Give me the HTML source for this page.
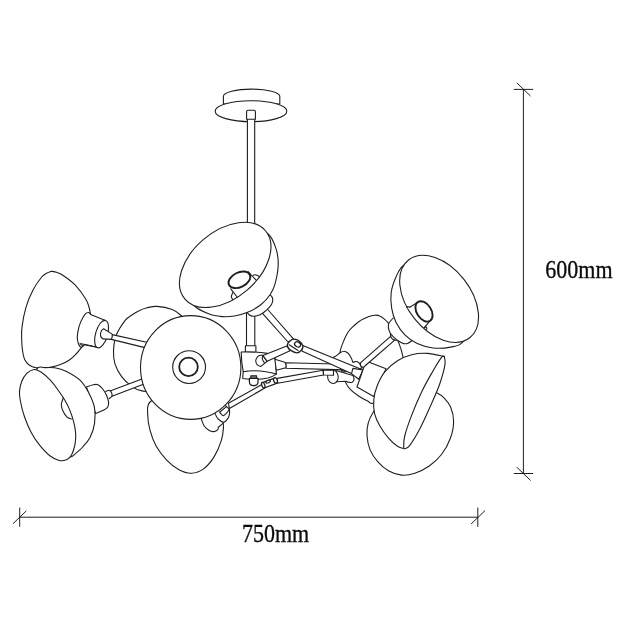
<!DOCTYPE html>
<html><head><meta charset="utf-8"><title>Chandelier dimensions</title>
<style>
html,body{margin:0;padding:0;background:#fff}
body{width:625px;height:625px;overflow:hidden}
svg{display:block}
text{font-family:"Liberation Serif",serif;font-size:22px;fill:#0a0a0a;stroke:#0a0a0a;stroke-width:.3px}
</style></head><body>
<svg width="625" height="625" viewBox="0 0 625 625">
<rect width="625" height="625" fill="#fff"/>
<g fill="#fff" stroke="#1e1e1e" stroke-width="1.1" stroke-linejoin="round" stroke-linecap="round">
<!-- ceiling mount -->
<path d="M223.4,96.3 A28.2,7.2 0 0 1 279.8,96.3 L279.8,104 L223.4,104 Z"/>
<ellipse cx="251" cy="111.2" rx="35.8" ry="10.5"/>
<path d="M247.4,119.2L247.4,240L254.7,240L254.7,119.2"/>
<path d="M246.5,300L246.5,352L254.8,352L254.8,300"/>
<path d="M246.6,119.3 L246.6,111.8 Q246.6,110.3 248.1,110.3 L253.9,110.3 Q255.4,110.3 255.4,111.8 L255.4,119.3 Z"/>
<!-- shade 6 -->
<path d="M113.5,351C113.7,346.1 114.2,340.4 116.2,335.3C118.2,330.2 122.7,323.7 125.2,320.4C127.8,317.1 129.3,316.9 131.5,315.3C133.7,313.7 136,312.1 138.6,310.9C141.2,309.6 143.9,308.6 147,307.8C150.1,307.1 152.8,306.1 157,306.4C161.2,306.7 168.2,308.1 172.2,309.6C176.2,311.1 177.4,312.2 181.2,315.6C185,319 191.9,324.3 195,330C198.1,335.7 200.8,342.5 200,350C199.2,357.5 195.8,368 190,375C184.2,382 173,389.4 165,392C157,394.6 147.5,391.8 142,390.9C136.5,390 135.3,388.8 131.9,386.4C128.5,384 124.6,380.5 121.8,376.8C119,373.1 116.5,368.7 115.1,364.4C113.7,360.1 113.3,355.9 113.5,351Z"/>
<!-- shade 8 -->
<path d="M340.1,352.4C340.4,348.3 341.4,346.7 342.7,343.4C344,340.1 345.9,335.5 347.8,332.5C349.7,329.5 352.1,327.5 354.2,325.5C356.3,323.5 358.2,321.8 360.6,320.4C363,318.9 366,317.7 368.3,316.8C370.6,315.9 372.8,315.4 374.7,315.2C376.6,315 378.2,315.2 379.8,315.9C381.4,316.5 382.9,317.9 384.3,319.1C385.7,320.3 386.5,320.6 388.1,322.9C389.7,325.2 392.2,329.6 394,333C395.8,336.4 397.5,339.5 399,343.4C400.5,347.3 402.1,352.6 402.8,356.2C403.5,359.8 403.5,361 403,365C402.5,369 402.2,374.5 400,380C397.8,385.5 394.5,394.1 390,398C385.5,401.9 376.9,402.8 373.2,403.3C369.5,403.8 370,402.3 367.6,401.1C365.2,399.9 361.4,397.9 358.6,396C355.8,394.1 353,392.1 350.8,389.9C348.6,387.7 347.3,386.2 345.7,382.6C344.1,379 341.9,373 341,368C340.1,363 339.8,356.5 340.1,352.4Z"/>
<!-- shade 10 -->
<path d="M436.2,392.5C439.4,394.1 441.6,395.4 444,397.8C446.4,400.2 449,403.1 450.6,407C452.2,410.9 453.7,416.1 453.6,421.4C453.6,426.6 452.3,433 450.3,438.5C448.3,444 445.1,449.9 441.5,454.5C437.9,459.1 433.3,463.2 428.9,466.3C424.4,469.4 419.4,471.8 414.8,473.3C410.2,474.8 406,475.5 401.6,475.1C397.2,474.7 392.3,472.9 388.4,470.7C384.4,468.5 381,465.4 377.9,461.9C374.8,458.4 371.8,454 370,449.6C368.2,445.2 367.3,439.9 367,435.5C366.7,431.1 367.1,427.2 368.2,423.2C369.3,419.2 370.7,415.9 373.5,411.7C376.3,407.5 379.8,401.9 385,398C390.2,394.1 398.3,389.7 405,388C411.7,386.3 419.8,387.2 425,388C430.2,388.8 433,390.9 436.2,392.5Z"/>
<!-- shade 7 -->
<path d="M150,402C146.3,405.7 147.7,409.7 147.7,414.4C147.7,419.1 148.6,424.9 150,430.2C151.4,435.5 153.3,441 156.1,446C158.9,451 162.9,456.1 166.7,460.1C170.5,464.1 174.9,467.6 179,469.8C183.1,472 187.2,473.5 191.3,473.3C195.4,473.1 199.8,471.7 203.6,468.9C207.4,466.1 211.3,461.3 214.2,456.6C217.1,451.9 219.7,445.5 221.2,440.8C222.7,436.1 223.2,431.9 223.4,428.4C223.6,424.9 223.9,423.9 222.5,420C221.1,416.1 218.8,409.2 215,405C211.2,400.8 207.5,397.2 200,395C192.5,392.8 178.3,390.8 170,392C161.7,393.2 153.7,398.3 150,402Z"/>
<!-- left rods -->
<path d="M112.2,334.6L150,343L150,348.9L111.3,339.4Z"/>
<path d="M110,390.9L150,376L150,381.8L112,396.2Z"/>
<!-- right knuckles (behind long arm) -->
<path d="M330.8,358.3C331.5,358 333.4,357.5 335,356.6C336.6,355.7 338.6,353.7 340.1,352.8C341.6,351.9 342.7,351.3 344,351.3C345.3,351.3 346.6,352 347.8,353C349,354 350.1,355.9 351,357.5C351.9,359.1 352.6,361.6 352.9,362.4L352.9,362.4C353.2,362.3 354.2,361.7 355,361.6C355.8,361.5 356.6,361.4 357.4,361.8C358.2,362.2 359.6,363.5 360,363.9L362,368 L345,372 L331,364 Z"/>
<path d="M285.9,362.7L345,364.2L346,369.9L285.9,368.2Z"/>
<path d="M336,370.5 L352.9,375.5 Q355.5,379.5 352.4,382.2 Q349,383 345.7,381.3 L336.6,381.8 Z"/>
<ellipse cx="332.9" cy="376.7" rx="5.3" ry="6.8" transform="rotate(-6 332.9 376.7)"/>
<path d="M323.2,370.2L333.5,370.2L333.5,375.2L323.6,375Z"/>
<path d="M277.2,378.4L323,370.2L323.4,375L277.7,383.2Z"/>
<!-- long arm -->
<path d="M302.8,345.5L363,370L351.5,373.6L301.8,351Z"/>
<path d="M352.9,368.4L363,370L358.7,379.2L351.5,373.6Z"/>
<!-- hub -->
<path d="M245.4,345.8L245.4,352.6L255.9,352.6L255.9,345.8Z"/>
<path d="M262.4,384.2L228.4,403.2L229.4,408.5L264.8,388Z"/>
<path d="M243.2,371.7 L242.7,378.5 Q258,380.5 268,378 Q273,376.5 276.3,374.1 L274.8,365 Z"/>
<path d="M241.2,352 Q256,351.5 267.6,353.4 Q272,355 275.3,358.7 L276.3,374.1 Q266.7,371 254.2,370.7 Q248,370.8 243.2,371.7 Q241.3,362 241.2,352 Z"/>
<path d="M274.8,359.2 L284.9,362.3 Q286.6,365 285.9,367.8 L276.3,370.2 Z"/>
<path d="M262.8,355.4 Q257,354.5 255.7,360.5 Q256,366 260.9,366.4 L267.2,361.3 Z"/>
<path d="M262.8,355.6C262.7,356.2 262.1,357.9 262.3,359C262.5,360.1 263.9,361.8 264.2,362.4" fill="none"/>
<!-- arms at joint -->
<path d="M267.3,309L293.6,339.2L288,342L262.5,313.3Z"/>
<path d="M262.8,355.4L286.8,346L290,350.8L267.2,361.3Z"/>
<path d="M288,343.2C288.6,342.1 290,341 291,340.3C292,339.6 292.7,339.1 294,339.2C295.3,339.3 297.3,339.7 298.8,340.8C300.3,341.9 302.3,344.1 302.8,345.6C303.3,347.1 302.7,348.4 301.8,349.6C300.9,350.8 299,352.7 297.2,352.8C295.4,352.9 292.4,351.4 290.8,350.4C289.2,349.4 288.1,347.8 287.6,346.6C287.1,345.4 287.4,344.2 288,343.2Z" stroke-width="1.3"/>
<ellipse cx="297.6" cy="344.4" rx="3.2" ry="2.4" transform="rotate(30 297.6 344.4)" stroke-width="1.3"/>
<path d="M289.2,344.8L298,350.4" fill="none" stroke-width="1.2"/>
<path d="M249.4,378.4 L258,378.4 L258,382 Q258,385.6 253.7,385.6 Q249.4,385.6 249.4,382 Z" stroke-width="1.25"/>
<path d="M250.8,375.7L256.6,375.7L256.6,378.4L250.8,378.4Z" fill="#777"/>
<path d="M262.4,382.7L275.3,377.9L277.2,383.2L264.3,388Z" stroke-width="1.3"/>
<ellipse cx="263.3" cy="385.2" rx="1.5" ry="2.9" transform="rotate(-20 263.3 385.2)" stroke-width="1.3"/>
<ellipse cx="275.5" cy="380.4" rx="1.8" ry="2.8" transform="rotate(-20 275.5 380.4)" stroke-width="1.3"/>
<ellipse cx="268.1" cy="381.6" rx="2.4" ry="1.2" transform="rotate(-20 268.1 381.6)" stroke-width="1.2"/>
<!-- shade7 socket -->
<path d="M201.5,419.6C202,420.7 203.1,424.5 204.4,426.3C205.7,428.1 207.6,429.7 209.2,430.6C210.8,431.5 212.6,431.8 214,431.6C215.4,431.4 217.1,430.3 217.8,429.6C218.5,428.9 218.2,427.6 218.3,427.2L223.6,422.9 L214,408 L200,414 Z"/>
<path d="M215.4,414.3C215.8,415 216.4,417.3 217.8,418.6C219.2,419.9 221.8,422.4 223.6,422.2C225.4,422 227.4,419.2 228.4,417.6C229.4,416 229.4,414.2 229.6,412.8C229.8,411.4 229.4,409.6 229.4,409L226.5,406.6 L222,402 L212,408 Z"/>
<path d="M219.6,412.2L226.5,406.6" fill="none"/>
<path d="M219.8,412.4C220.1,412.7 222.3,415.7 223.1,415.7C223.9,415.7 226.8,412.9 227.4,412.2C228,411.5 229.2,409.3 229.4,409" fill="none"/>
<!-- shade 5 -->
<ellipse cx="190.7" cy="367.5" rx="50.2" ry="51.9"/>
<ellipse cx="189.1" cy="367.1" rx="16.4" ry="16.4"/>
<ellipse cx="188.5" cy="366.9" rx="9.3" ry="9.3" stroke-width="1.8"/>
<!-- shade 1 -->
<path d="M266,291C266.6,291.5 268.6,292.9 269.7,294.1C270.8,295.3 272.3,296.7 272.6,298.4C272.9,300.1 272.6,302.3 271.6,304.2C270.6,306.1 268.7,308.1 266.8,309.9C264.9,311.6 262.3,313.6 260.1,314.7C257.9,315.8 255.2,316.2 253.4,316.2C251.6,316.2 250.3,315.6 249.1,314.7C247.9,313.8 246.5,311.6 246,311"/>
<path d="M250,226C252.2,224.2 263.9,230.2 268.2,234C272.5,237.8 274.3,243.4 276,248.6C277.7,253.8 278.4,259.4 278.2,265.4C278,271.4 276.2,279.5 274.9,284.4C273.6,289.2 272.5,291.1 270.2,294.5C267.9,297.9 264.9,301.5 261.1,304.5C257.3,307.5 252.1,310.4 247.6,312.3C243.1,314.2 238.7,315.3 234.4,316C230.1,316.7 226.3,317 222,316.6C217.7,316.2 213.3,315.7 208.6,313.8C203.9,311.9 195.4,307.7 194,305.4C192.6,303.1 196.5,302.6 200,300C203.5,297.4 208.3,295 215,290C221.7,285 233.3,277.5 240,270C246.7,262.5 253.3,252.3 255,245C256.7,237.7 247.8,227.8 250,226Z"/>
<ellipse cx="225.2" cy="264.9" rx="52.8" ry="33.4" transform="rotate(-40.3 225.2 264.9)"/>
<path d="M248.1,271.5L256.3,280.4" fill="none"/>
<path d="M230.8,288.8L237.1,297" fill="none"/>
<path d="M252.9,275.4C253.2,275.3 254.3,274.8 255,274.8C255.7,274.8 256.4,274.9 257.2,275.2C258,275.5 259.2,276.5 259.6,276.8" fill="none"/>
<path d="M232.8,292.6C232.6,293.2 231.3,295.3 231.3,296.5C231.3,297.7 232.6,299.2 232.8,299.8" fill="none"/>
<ellipse cx="239.4" cy="279.8" rx="11.6" ry="7.3" transform="rotate(-26 239.4 279.8)" stroke-width="1.9"/>
<!-- shade 3 -->
<path d="M51.4,271.2C50.6,271.6 48.1,272.3 46.5,273.3C44.9,274.3 44,274.2 41.7,277C39.4,279.8 35.5,285.1 32.9,290.2C30.2,295.3 27.6,301.6 25.8,307.8C24,314 22.7,321.7 22,327.1C21.3,332.5 21.6,336 21.7,340C21.8,344 22.1,347.8 22.6,351C23.1,354.2 23.6,357.2 24.7,359.5C25.8,361.8 27.1,363.6 29.1,365C31.1,366.4 34,367.4 36.5,367.9C39,368.4 41.8,368.2 44,368.1C46.2,368 47.3,368 50,367.4C52.7,366.8 57.2,365.7 60.4,364.5C63.6,363.3 66.7,361.8 69.4,360C72.1,358.2 74.3,355.8 76.5,353.5C78.7,351.2 81.5,347.3 82.5,346.1 L90.6,314.4 L90.6,314.4C90.3,313.2 89.8,309.6 89,307C88.2,304.4 88,302.7 85.7,299C83.4,295.3 78.9,288.9 75.1,284.9C71.3,280.9 65.9,277.3 62.8,275.2C59.7,273.1 58.4,273 56.5,272.3C54.6,271.6 52.2,271.4 51.4,271.2Z"/>
<path d="M90.6,314.6C90.3,314.2 89.6,312.6 88.7,312.5C87.8,312.4 86.8,312.3 85.4,313.9C84.1,315.5 81.9,319 80.6,322.1C79.3,325.2 78.2,329.6 77.7,332.6C77.2,335.6 77.2,338.1 77.5,340.3C77.8,342.6 78.8,345 79.6,346.1C80.3,347.2 81.2,347.2 82,347C82.8,346.8 84,345 84.4,344.6 L98.3,347.5 L105.5,320.6 Z"/>
<path d="M80.1,343.2C80.2,343.4 80.6,344.2 81,344.6C81.4,345 82.3,345.3 82.6,345.4" fill="none"/>
<path d="M81.5,343.8L98.3,347.5" fill="none"/>
<ellipse cx="101.6" cy="334.1" rx="6" ry="14.2" transform="rotate(16 101.6 334.1)"/>
<path d="M103.6,328.8 L112.2,334.1 Q112.6,337 111.3,339.4 L103.1,338.9 Q100.2,337.5 100.5,333.5 Q101,330 103.6,328.8 Z"/>
<!-- shade 4 -->
<path d="M105.7,391.4C106.3,391.2 108.5,390 109.6,390.4C110.6,390.8 111.7,392.8 112,393.8C112.3,394.9 112,395.9 111.5,396.7C111,397.5 109.5,398.3 109.1,398.6"/>
<path d="M86.5,387.1C87.6,386.7 91.3,385.1 93.2,384.7C95.1,384.3 96.4,384 98,384.7C99.6,385.4 101.3,387.2 102.8,389C104.2,390.8 105.7,393.5 106.7,395.7C107.7,397.9 108.4,400.5 108.6,402.4C108.8,404.3 108.4,405.9 107.6,407.2C106.8,408.5 105.8,409.1 103.8,410.1C101.8,411.2 97,412.9 95.6,413.5Z"/>
<path d="M36.9,369C38.6,365.3 42,367.8 45,367.6C48,367.4 51.3,367.2 54.8,367.8C58.3,368.4 61.8,369.1 66,371.2C70.2,373.3 76.1,376.4 80,380.2C83.9,383.9 86.8,389.1 89.2,393.7C91.6,398.3 93.6,402.8 94.5,407.8C95.4,412.8 95.2,418.7 94.5,423.6C93.8,428.6 92,433.6 90,437.5C88,441.4 85,444.4 82.7,447C80.4,449.6 78,451.5 76,453.2C74,454.9 72.8,457.2 70.5,457C68.2,456.8 65.4,456.5 62,452C58.6,447.5 54.5,440.3 50,430C45.5,419.7 37.2,400.2 35,390C32.8,379.8 35.2,372.7 36.9,369Z"/>
<path d="M34.1,369.5C36.5,369.3 38.7,370.5 41.4,372.3C44.1,374.1 47.5,377.2 50.3,380.2C53.1,383.2 55.8,386.8 58.2,390.2C60.6,393.6 63,397 64.9,400.3C66.8,403.6 68.3,406.4 69.8,410.1C71.3,413.8 72.8,418.5 73.8,422.4C74.8,426.3 75.5,429.9 75.7,433.6C75.9,437.3 75.6,441.2 74.9,444.8C74.2,448.4 72.8,452.5 71.5,454.9C70.2,457.3 69,458.5 67,459.4C65,460.3 62,461.1 59.2,460.5C56.4,459.9 53.4,458.4 50.2,456C47,453.6 43.4,449.8 40.2,445.9C37,442 33.8,437.4 31.2,432.5C28.6,427.6 26.3,421.9 24.5,416.8C22.7,411.7 21.4,406.2 20.6,402C19.8,397.8 19.3,394.8 19.5,391.4C19.7,387.9 20.6,384.3 21.8,381.3C23,378.3 24.8,375.4 26.8,373.4C28.9,371.4 31.7,369.7 34.1,369.5Z"/>
<path d="M63.4,397.6C63,398.8 61.3,402.5 61.3,404.8C61.3,407.1 62.2,409.4 63.2,411.5C64.2,413.6 65.7,415.9 67.1,417.1C68.5,418.4 70.7,418.7 71.4,419" fill="none"/>
<!-- shade 9 cup -->
<path d="M366,361L386,368.8L373.7,396.4L357,387Z"/>
<!-- shade 2 -->
<path d="M390.6,336.3 L361,362.4 Q359.3,364.8 361.3,366.6 Q363.3,367.8 364.9,366 L394.4,340.3 Z"/>
<path d="M390.4,333.8C390.5,334.4 390.6,336.3 391.1,337.2C391.6,338.1 392.3,338.9 393.2,339.4C394.1,339.9 395.9,340.1 396.5,340.3"/>
<path d="M393.2,318C392.5,318.9 389.7,321.6 388.9,323.2C388.1,324.8 388.2,326.1 388.4,327.6C388.6,329.1 389.1,330.9 389.9,332.4C390.7,333.9 391.8,335.3 393.2,336.7C394.6,338.1 396.7,339.9 398.5,341C400.3,342.1 402.3,343.2 403.8,343.6C405.3,344 406.2,343.9 407.6,343.4C409,342.9 411.3,341 412,340.5"/>
<path d="M404,265C400,267.4 398.2,272.1 396.1,276.7C394,281.3 391.9,287.2 391.2,292.5C390.5,297.8 390.9,303.4 391.7,308.4C392.5,313.4 393.9,318 396.1,322.4C398.3,326.8 401.4,331.3 404.9,334.8C408.4,338.3 412.5,341.4 417.2,343.6C421.9,345.8 427.5,347.4 433.1,348C438.7,348.6 445.7,348.1 450.7,347.1C455.7,346.1 459.8,346.3 463,341.8C466.2,337.3 472.2,330.3 470,320C467.8,309.7 458.3,289.7 450,280C441.7,270.3 427.7,264.5 420,262C412.3,259.5 408,262.6 404,265Z"/>
<ellipse cx="439.1" cy="298.9" rx="49.5" ry="31.6" transform="rotate(51.8 439.1 298.9)"/>
<path d="M417,302.6L409.8,307.2" fill="none"/>
<path d="M429.6,321.4L424.2,327.6" fill="none"/>
<path d="M409.8,307.2C409.5,307.1 408.4,306.6 407.8,306.6C407.2,306.6 406.6,307.1 406.4,307.2" fill="none"/>
<path d="M424.2,327.6C424.6,327.5 426,326.7 426.4,327C426.8,327.3 426.7,329.2 426.8,329.6" fill="none"/>
<ellipse cx="424" cy="311.4" rx="7.2" ry="11.2" transform="rotate(-33 424 311.4)" stroke-width="1.9"/>
<!-- shade 9 -->
<path d="M444.2,356.4C441.4,355.9 432.8,353.7 427.4,353.4C422,353.1 416.6,353.5 411.6,354.7C406.6,355.9 401.9,358 397.5,360.8C393.1,363.6 388.6,367.3 385.2,371.4C381.8,375.5 379.2,380.8 377.3,385.5C375.4,390.2 374.2,394.9 373.8,399.6C373.4,404.3 373.6,409.2 374.6,413.6C375.6,418 377.5,421.9 379.9,426C382.2,430.1 385.8,434.9 388.7,438.3C391.6,441.7 394.9,444.4 397.5,446.2C400.1,447.9 403.4,448.4 404.6,448.8 L404.6,448.8C405.5,448.2 407.2,448.8 409.8,445.3C412.4,441.8 416.9,434.4 420.4,427.7C423.9,420.9 427.8,412.1 431,404.8C434.2,397.5 437.5,390.4 439.8,383.7C442.1,377 444.3,368.9 445,364.4C445.7,359.8 444.3,357.7 444.2,356.4Z"/>
<path d="M444.2,356.4C443.8,356.5 443.4,354.8 441.5,357.3C439.6,359.8 435.9,365.8 432.7,371.4C429.5,377 425.7,383.5 422.2,390.8C418.7,398.1 414.5,407.8 411.6,415.4C408.7,423 405.9,431.1 404.6,436.5C403.3,441.9 403.9,446.1 403.7,448" fill="none"/>
<!-- dimensions -->
<line x1="523.4" y1="89.4" x2="523.4" y2="473.5" stroke-width="1"/>
<line x1="514.2" y1="89.4" x2="532.8" y2="89.4" stroke-width="1"/>
<line x1="517" y1="83" x2="530.3" y2="95.8" stroke-width="1"/>
<line x1="514.2" y1="473.5" x2="532.8" y2="473.5" stroke-width="1"/>
<line x1="517" y1="467.4" x2="530.3" y2="480.2" stroke-width="1"/>
<line x1="19.7" y1="517.2" x2="477.8" y2="517.2" stroke-width="1"/>
<line x1="19.7" y1="508" x2="19.7" y2="526.4" stroke-width="1"/>
<line x1="13.3" y1="523.4" x2="26.1" y2="511.1" stroke-width="1"/>
<line x1="477.8" y1="508" x2="477.8" y2="526.4" stroke-width="1"/>
<line x1="471.4" y1="523.7" x2="484.7" y2="510.9" stroke-width="1"/>
</g>
<g opacity="0.99"><text transform="translate(545.3 277.8) scale(1 1.13)">600mm</text>
<text transform="translate(242 541.9) scale(1 1.13)">750mm</text></g>
</svg>
</body></html>
